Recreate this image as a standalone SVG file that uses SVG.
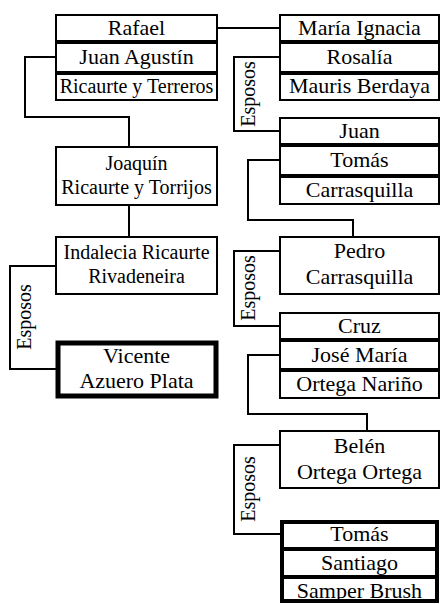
<svg xmlns="http://www.w3.org/2000/svg" width="440" height="604" viewBox="0 0 440 604" font-family="Liberation Serif, Times New Roman, serif">
  <style>
    .cell { fill: #fff; stroke: #000; stroke-width: 2; }
    .thick { fill: #fff; stroke: #000; stroke-width: 5; }
    .thickcell { fill: #fff; stroke: #000; stroke-width: 4; }
    .link { fill: none; stroke: #000; stroke-width: 2; }
    .n, .s, .tag { fill: #000; text-anchor: middle; font-family: "Liberation Serif", "Times New Roman", Times, serif; }
    .n { font-size: 22px; }
    .s { font-size: 20px; }
    .tag { font-size: 20px; }
  </style>
  <rect width="440" height="604" fill="#fff"/>

  <!-- connectors and the "Esposos" brackets -->
  <g id="connectors">
    <path class="link" d="M217 28 H280"/>
    <path class="link" d="M56 57 H25 V117 H129 V147"/>
    <path class="link" d="M129 205 V237"/>
    <path class="link" d="M56 266 H10 V369 H56"/>
    <path class="link" d="M280 57 H234 V131 H280"/>
    <path class="link" d="M280 160 H248 V220 H353 V237"/>
    <path class="link" d="M280 251 H234 V326 H280"/>
    <path class="link" d="M280 355 H248 V414 H367 V431"/>
    <path class="link" d="M280 445 H234 V534 H280"/>
    <text class="tag" transform="translate(31,317) rotate(-90)">Esposos</text>
    <text class="tag" transform="translate(255,94) rotate(-90)">Esposos</text>
    <text class="tag" transform="translate(255,288) rotate(-90)">Esposos</text>
    <text class="tag" transform="translate(255,489) rotate(-90)">Esposos</text>
  </g>

  <!-- left column -->
  <g id="rafael">
    <rect class="cell" x="56" y="15" width="161" height="26"/>
    <rect class="cell" x="56" y="43" width="161" height="29"/>
    <rect class="cell" x="56" y="74" width="161" height="26"/>
    <text class="n" x="136.5" y="35">Rafael</text>
    <text class="n" x="136.5" y="64">Juan Agustín</text>
    <text class="s" x="136.5" y="93">Ricaurte y Terreros</text>
  </g>
  <g id="joaquin">
    <rect class="cell" x="56" y="147" width="161" height="58"/>
    <text class="s" x="136.5" y="170">Joaquín</text>
    <text class="s" x="136.5" y="194">Ricaurte y Torrijos</text>
  </g>
  <g id="indalecia">
    <rect class="cell" x="56" y="237" width="161" height="57"/>
    <text class="s" x="136.5" y="259">Indalecia Ricaurte</text>
    <text class="s" x="136.5" y="283">Rivadeneira</text>
  </g>
  <g id="vicente">
    <rect class="thick" x="58" y="343" width="158" height="53"/>
    <text class="n" x="136.5" y="363">Vicente</text>
    <text class="n" x="136.5" y="388">Azuero Plata</text>
  </g>

  <!-- right column -->
  <g id="maria-ignacia">
    <rect class="cell" x="280" y="15" width="159" height="26"/>
    <rect class="cell" x="280" y="43" width="159" height="29"/>
    <rect class="cell" x="280" y="74" width="159" height="26"/>
    <text class="n" x="359.5" y="35">María Ignacia</text>
    <text class="n" x="359.5" y="64">Rosalía</text>
    <text class="n" x="359.5" y="93">Mauris Berdaya</text>
  </g>
  <g id="juan">
    <rect class="cell" x="280" y="118" width="159" height="26"/>
    <rect class="cell" x="280" y="146" width="159" height="29"/>
    <rect class="cell" x="280" y="177" width="159" height="27"/>
    <text class="n" x="359.5" y="138">Juan</text>
    <text class="n" x="359.5" y="167">Tomás</text>
    <text class="n" x="359.5" y="197">Carrasquilla</text>
  </g>
  <g id="pedro">
    <rect class="cell" x="280" y="237" width="159" height="57"/>
    <text class="n" x="359.5" y="258">Pedro</text>
    <text class="n" x="359.5" y="284">Carrasquilla</text>
  </g>
  <g id="cruz">
    <rect class="cell" x="280" y="313" width="159" height="26"/>
    <rect class="cell" x="280" y="341" width="159" height="28"/>
    <rect class="cell" x="280" y="371" width="159" height="27"/>
    <text class="n" x="359.5" y="333">Cruz</text>
    <text class="n" x="359.5" y="362">José María</text>
    <text class="n" x="359.5" y="391">Ortega Nariño</text>
  </g>
  <g id="belen">
    <rect class="cell" x="280" y="431" width="159" height="57"/>
    <text class="n" x="359.5" y="453">Belén</text>
    <text class="n" x="359.5" y="479">Ortega Ortega</text>
  </g>
  <g id="tomas">
    <rect class="thickcell" x="282" y="522" width="155" height="27"/>
    <rect class="thickcell" x="282" y="549" width="155" height="28"/>
    <rect class="thickcell" x="282" y="577" width="155" height="24"/>
    <text class="n" x="359.5" y="541">Tomás</text>
    <text class="n" x="359.5" y="570">Santiago</text>
    <text class="n" x="359.5" y="598">Samper Brush</text>
  </g>
</svg>
